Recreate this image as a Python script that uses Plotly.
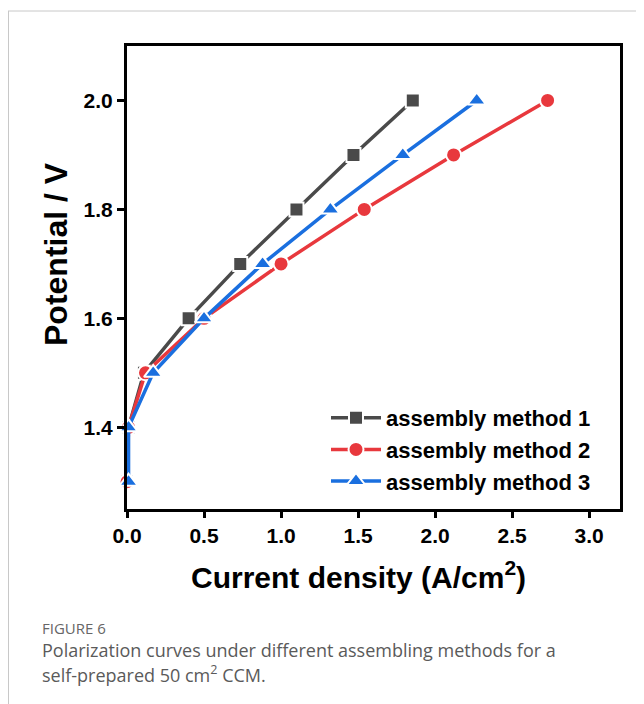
import plotly.graph_objects as go

potential = [1.3, 1.4, 1.5, 1.6, 1.7, 1.8, 1.9, 2.0]
method1 = [0.0, 0.01, 0.11, 0.40, 0.735, 1.10, 1.47, 1.855]
method2 = [0.0, 0.01, 0.12, 0.50, 1.00, 1.54, 2.12, 2.73]
method3 = [0.01, 0.01, 0.17, 0.50, 0.88, 1.32, 1.79, 2.27]
names = ["assembly method 1", "assembly method 2", "assembly method 3"]
colors = ["#4a4a4a", "#e8383d", "#1a6fdf"]
symbols = ["square", "circle", "triangle-up"]
sizes = [14, 15, 16]
xticks = [0.0, 0.5, 1.0, 1.5, 2.0, 2.5, 3.0]
yticks = [1.4, 1.6, 1.8, 2.0]

OFF = 8  # browser body margin
W, H = 644 - OFF, 704 - OFF
L, R, T, B = 127 - OFF, 620 - OFF, 46 - OFF, 509 - OFF

fig = go.Figure()
for xs, nm, c, s, sz in zip([method1, method2, method3], names, colors, symbols, sizes):
    fig.add_trace(go.Scatter(
        x=xs, y=potential, name=nm, mode="lines+markers",
        line=dict(color=c, width=3.5),
        marker=dict(symbol=s, size=sz, color=c, line=dict(color="white", width=2)),
        cliponaxis=False,
    ))

tickfont = dict(family="Liberation Sans, Arial", size=21, color="black", weight="bold")
fig.update_xaxes(range=[0, 3.2], tickvals=xticks, ticktext=[f"{v:.1f}" for v in xticks],
                 showline=True, linecolor="black", linewidth=3, mirror=True,
                 ticks="outside", ticklen=6, tickwidth=3, tickcolor="black",
                 showgrid=False, zeroline=False, tickfont=tickfont)
fig.update_yaxes(range=[1.25, 2.1], tickvals=yticks, ticktext=[f"{v:.1f}" for v in yticks],
                 showline=True, linecolor="black", linewidth=3, mirror=True,
                 ticks="outside", ticklen=7, tickwidth=3, tickcolor="black",
                 showgrid=False, zeroline=False, tickfont=tickfont)

def px(x):
    return (x - OFF - L) / (R - L)

def py(y):
    return (B - (y - OFF)) / (B - T)

annotations = [
    dict(text="Current density (A/cm<sup>2</sup>)", x=px(358), y=py(575), xref="paper", yref="paper",
         showarrow=False, font=dict(family="Liberation Sans, Arial", size=30, color="black", weight="bold"),
         xanchor="center", yanchor="middle"),
    dict(text="Potential / V", x=px(56), y=py(254), xref="paper", yref="paper", textangle=-90,
         showarrow=False, font=dict(family="Liberation Sans, Arial", size=32, color="black", weight="bold"),
         xanchor="center", yanchor="middle"),
    dict(text="FIGURE 6", x=px(40), y=py(628), xref="paper", yref="paper", showarrow=False,
         font=dict(family="Open Sans", size=15, color="#666666"), xanchor="left", yanchor="middle"),
    dict(text="Polarization curves under different assembling methods for a", x=px(40), y=py(650),
         xref="paper", yref="paper", showarrow=False,
         font=dict(family="Open Sans", size=18, color="#5a5a5a"), xanchor="left", yanchor="middle"),
    dict(text="self-prepared 50 cm<sup>2</sup> CCM.", x=px(40), y=py(674),
         xref="paper", yref="paper", showarrow=False,
         font=dict(family="Open Sans", size=18, color="#5a5a5a"), xanchor="left", yanchor="middle"),
]

shapes = [
    dict(type="line", xref="paper", yref="paper", x0=px(8), x1=px(660), y0=py(11), y1=py(11),
         line=dict(color="#c8c8c8", width=1)),
    dict(type="line", xref="paper", yref="paper", x0=px(8.5), x1=px(8.5), y0=py(11), y1=py(720),
         line=dict(color="#c8c8c8", width=1)),
]

fig.update_layout(
    width=W, height=H,
    margin=dict(l=L, r=W - R, t=T, b=H - B, pad=0),
    plot_bgcolor="white", paper_bgcolor="white",
    showlegend=True,
    legend=dict(x=px(326), y=py(397), xanchor="left", yanchor="top",
                font=dict(family="Liberation Sans, Arial", size=22, color="black", weight="bold"),
                bgcolor="rgba(0,0,0,0)", itemwidth=50, tracegroupgap=0),
    annotations=annotations, shapes=shapes,
)

fig.write_html("out.html")
